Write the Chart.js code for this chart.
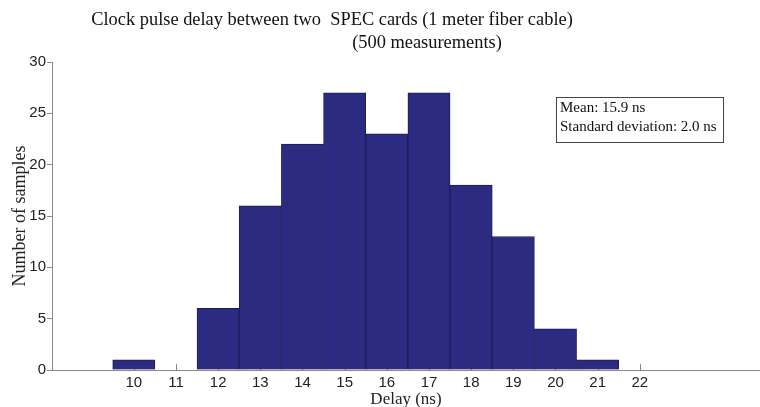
<!DOCTYPE html>
<html>
<head>
<meta charset="utf-8">
<script src="https://cdn.jsdelivr.net/npm/chart.js@4"></script>
<style>
  html, body { margin: 0; padding: 0; background: #fff; }
  #wrap { width: 760px; height: 407px; position: relative; }
</style>
</head>
<body>
<div id="wrap"><canvas id="myChart"></canvas></div>
<script>
// histogram data
var delays = [10, 11, 12, 13, 14, 15, 16, 17, 18, 19, 20, 21];
var samples = [1, 0, 6, 16, 22, 27, 23, 27, 18, 13, 4, 1];
var xTickLabels = [10, 11, 12, 13, 14, 15, 16, 17, 18, 19, 20, 21, 22];
var yTickLabels = [0, 5, 10, 15, 20, 25, 30];
var titleLines = ["Clock pulse delay between two  SPEC cards (1 meter fiber cable)", "(500 measurements)"];
var statLines = ["Mean: 15.9 ns", "Standard deviation: 2.0 ns"];

var points = [];
for (i = 0; i < delays.length; i++) {
    points.push({ x: delays[i], y: samples[i] });
}

var serif = "'Liberation Serif', 'Times New Roman', serif";
var sans = "'Liberation Sans', Arial, sans-serif";

// title, stats box and inward x ticks
var extras = {
    id: 'extras',
    beforeDatasetsDraw: function (chart) {
        var ctx = chart.ctx;
        var xs = chart.scales.x;
        var base = chart.chartArea.bottom;
        ctx.save();
        ctx.strokeStyle = '#888';
        ctx.lineWidth = 1;
        for (var t of xTickLabels) {
            var px = Math.round(xs.getPixelForValue(t)) + 0.5;
            ctx.beginPath();
            ctx.moveTo(px, base);
            ctx.lineTo(px, base - 6);
            ctx.stroke();
        }
        ctx.restore();
    },
    afterDraw: function (chart) {
        var ctx = chart.ctx;
        ctx.save();
        ctx.fillStyle = '#111';
        ctx.textBaseline = 'middle';
        ctx.textAlign = 'center';
        ctx.font = '18.4px ' + serif;
        ctx.fillText(titleLines[0], 332, 20);
        ctx.fillText(titleLines[1], 427, 43);

        ctx.strokeStyle = '#444';
        ctx.lineWidth = 1;
        ctx.fillStyle = '#fff';
        ctx.fillRect(556.5, 97.5, 167, 45);
        ctx.strokeRect(556.5, 97.5, 167, 45);
        ctx.fillStyle = '#111';
        ctx.textAlign = 'left';
        ctx.font = '15px ' + serif;
        ctx.fillText(statLines[0], 560, 108);
        ctx.fillText(statLines[1], 560, 127);
        ctx.restore();
    }
};

var ctx = document.getElementById("myChart");
var chart = new Chart(ctx, {
    type: "bar",
    data: {
        datasets: [{
            data: points,
            backgroundColor: '#2b2b82',
            borderColor: '#1c1c55',
            borderWidth: 1,
            barPercentage: 1,
            categoryPercentage: 1
        }]
    },
    plugins: [extras],
    options: {
        responsive: true,
        maintainAspectRatio: false,
        animation: false,
        layout: { padding: { top: 62, left: 0, right: 0, bottom: 0 } },
        plugins: {
            legend: { display: false },
            tooltip: { enabled: false },
            title: { display: false }
        },
        scales: {
            x: {
                type: 'linear',
                offset: false,
                min: 8.06,
                max: 24.85,
                afterBuildTicks: function (scale) {
                    scale.ticks = xTickLabels.map(function (v) { return { value: v }; });
                },
                afterFit: function (scale) { scale.height = 37; },
                grid: { display: false, drawTicks: false },
                border: { display: true, color: '#888', width: 1 },
                ticks: {
                    color: '#222',
                    font: { family: sans, size: 15 },
                    padding: 4,
                    maxRotation: 0,
                    autoSkip: false
                },
                title: {
                    display: true,
                    text: 'Delay (ns)',
                    color: '#222',
                    font: { family: serif, size: 17, lineHeight: 1 },
                    padding: { top: 0, bottom: -1 }
                }
            },
            y: {
                min: 0,
                max: 30,
                afterBuildTicks: function (scale) {
                    scale.ticks = yTickLabels.map(function (v) { return { value: v }; });
                },
                afterFit: function (scale) { scale.width = 52; },
                grid: { drawOnChartArea: false, drawTicks: true, tickLength: 5, color: '#888' },
                border: { display: true, color: '#888', width: 1 },
                ticks: {
                    color: '#222',
                    font: { family: sans, size: 15 },
                    padding: 1
                },
                title: {
                    display: true,
                    text: 'Number of samples',
                    color: '#222',
                    font: { family: serif, size: 18 },
                    padding: { top: 9, bottom: 0 }
                }
            }
        }
    }
});
</script>
</body>
</html>
